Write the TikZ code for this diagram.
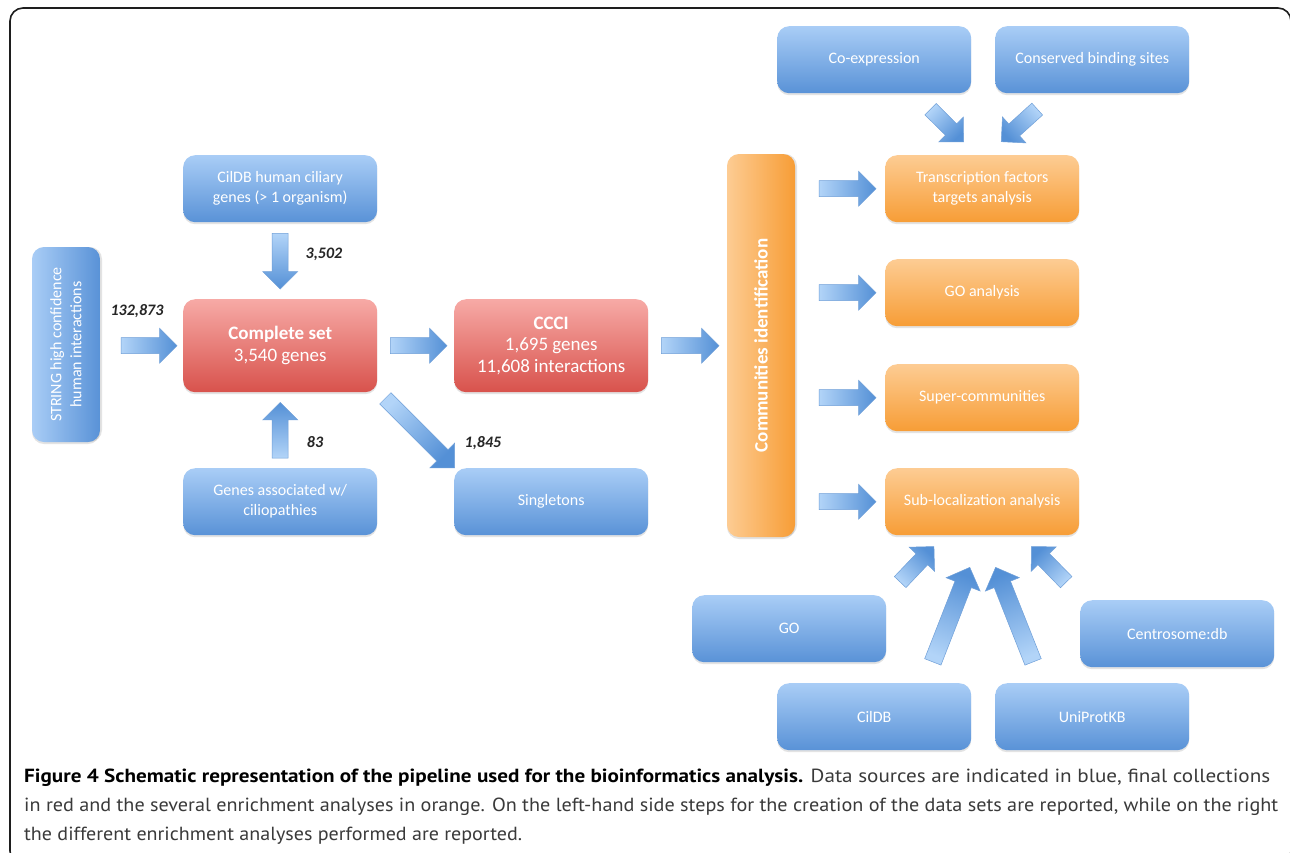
\documentclass[tikz,border=0pt]{standalone}
\usepackage{fontspec}
\setmainfont{Carlito}
\newfontfamily\capfont{PT Sans}
\usetikzlibrary{shapes.arrows,shadows,calc}
\definecolor{blueL}{HTML}{A9CDF6}
\definecolor{blueD}{HTML}{5992D7}
\definecolor{redL}{HTML}{F7AAA6}
\definecolor{redD}{HTML}{D8524C}
\definecolor{orL}{HTML}{FDCC93}
\definecolor{orD}{HTML}{F79D36}
\definecolor{arrL}{HTML}{B2D4F8}
\definecolor{arrD}{HTML}{5490D6}
\definecolor{arrE}{HTML}{6F9FD8}
\definecolor{frame}{HTML}{1E1E1E}
\definecolor{captxt}{HTML}{3A3A3A}

\tikzset{
  box/.style={rounded corners=12pt, minimum width=194pt, minimum height=67pt,
    inner sep=0pt, align=center, text=white,
    font=\fontsize{16}{20}\selectfont,
    drop shadow={shadow xshift=0pt, shadow yshift=-2pt, opacity=0.22}},
  bluebox/.style={box, top color=blueL, bottom color=blueD},
  redbox/.style={box, top color=redL, bottom color=redD},
  orbox/.style={box, top color=orL, bottom color=orD},
  barrow/.style={single arrow, inner xsep=0pt, inner ysep=7.75pt,
    single arrow head extend=9.5pt, single arrow tip angle=90,
    single arrow head indent=0pt, top color=arrL, bottom color=arrD,
    draw=arrE, line width=0.5pt},
  bigarrow/.style={inner ysep=8.5pt, single arrow head extend=9.5pt},
  lbl/.style={font=\fontsize{16}{19}\selectfont\bfseries\itshape, text=black!85, inner sep=0pt},
  capline/.style={anchor=base west, inner sep=0pt, text=captxt,
    font=\capfont\fontsize{19}{22}\selectfont}
}

% #1 options, #2 name, #3 tail, #4 tip
\newcommand\fatarrow[4][]{%
  \path let \p1=#3, \p2=#4,
    \n1={veclen(\x2-\x1,\y2-\y1)},
    \n2={atan2(\y2-\y1,\x2-\x1)},
    \n3={atan2(\y2-\y1,\x2-\x1)+90} in
    node[barrow, #1, minimum height=\n1, rotate=\n2, shading angle=\n3]
      (#2) at ($(\p1)!0.5!(\p2)$) {};}

\begin{document}
\begin{tikzpicture}[x=1pt,y=-1pt]
\useasboundingbox (0,0) rectangle (1290,852);
\fill[white] (0,0) rectangle (1290,852);
\draw[frame, line width=1.6pt, rounded corners=13pt] (10,8) rectangle (1291,864);

% ---- left part
\node[bluebox, rotate=90, minimum width=195pt, minimum height=68pt,
      left color=blueL, right color=blueD,
      drop shadow={shadow xshift=2pt, shadow yshift=0pt, opacity=0.22}]
  (string) at (66,344.5) {STRING high confidence\\human interactions};
\node[bluebox, anchor=north west] (cildbh) at (183,155) {CilDB human ciliary\\genes (> 1 organism)};
\node[redbox, anchor=north west, minimum height=93pt, font=\fontsize{19}{21.5}\selectfont]
  (complete) at (183,299) {\textbf{Complete set}\\3,540 genes};
\node[bluebox, anchor=north west] (genes) at (183,468) {Genes associated w/\\ciliopathies};
\node[redbox, anchor=north west, minimum height=93pt, font=\fontsize{19}{21.5}\selectfont]
  (ccci) at (454,299) {\textbf{CCCI}\\1,695 genes\\11,608 interactions};
\node[bluebox, anchor=north west] (single) at (454,468) {Singletons};

% ---- communities
\node[orbox, rotate=90, minimum width=383pt, minimum height=68pt,
      left color=orL, right color=orD, font=\fontsize{19}{22}\selectfont\bfseries,
      drop shadow={shadow xshift=2pt, shadow yshift=0pt, opacity=0.22}]
  (comm) at (761,345.5) {Communities identification};

% ---- right part
\node[bluebox, anchor=north west] (coexp) at (777,26) {Co-expression};
\node[bluebox, anchor=north west] (cons) at (995,26) {Conserved binding sites};
\node[orbox, anchor=north west] (tf) at (885,155) {Transcription factors\\targets analysis};
\node[orbox, anchor=north west] (goa) at (885,259) {GO analysis};
\node[orbox, anchor=north west] (super) at (885,364) {Super-communities};
\node[orbox, anchor=north west] (sub) at (885,468) {Sub-localization analysis};
\node[bluebox, anchor=north west] (go) at (692,595) {GO};
\node[bluebox, anchor=north west] (centro) at (1080,600) {Centrosome:db};
\node[bluebox, anchor=north west] (cildb) at (777,683) {CilDB};
\node[bluebox, anchor=north west] (uniprot) at (995,683) {UniProtKB};

% ---- arrows
\fatarrow{a1}{($(string.center|-complete.west)+(51,0)$)}{($(complete.west)+(-10,0)$)}
\fatarrow{a2}{($(cildbh.south)+(0,7)$)}{($(complete.north)+(0,-14)$)}
\fatarrow{a3}{($(genes.north)+(0,-6)$)}{($(complete.south)+(0,14)$)}
\fatarrow{a4}{($(complete.east)+(9,0)$)}{($(ccci.west)+(-11,0)$)}
\fatarrow{a5}{($(complete.south east)+(5,3)$)}{($(single.north west)+(-2,-3)$)}
\fatarrow{a6}{($(ccci.east)+(9,0)$)}{($(comm.center|-ccci.east)+(-46,0)$)}
\fatarrow{a7}{($(comm.center|-tf.west)+(54,0)$)}{($(tf.west)+(-13,0)$)}
\fatarrow{a8}{($(comm.center|-goa.west)+(54,0)$)}{($(goa.west)+(-13,0)$)}
\fatarrow{a9}{($(comm.center|-super.west)+(54,0)$)}{($(super.west)+(-13,0)$)}
\fatarrow{a10}{($(comm.center|-sub.west)+(54,0)$)}{($(sub.west)+(-13,0)$)}
\fatarrow{a11}{($(coexp.south)+(53.5,13)$)}{($(tf.north)+(-21.5,-16)$)}
\fatarrow{a12}{($(cons.south)+(-52,13)$)}{($(tf.north)+(22,-16)$)}
\fatarrow{a13}{($(go.north east)+(11,-10)$)}{($(sub.south)+(-51,14)$)}
\fatarrow{a14}{($(centro.north west)+(-11,-15)$)}{($(sub.south)+(52,14)$)}
\fatarrow[bigarrow]{a15}{($(cildb.north)+(57,-17)$)}{($(sub.south)+(-14,36)$)}
\fatarrow[bigarrow]{a16}{($(uniprot.north)+(-57.5,-17)$)}{($(sub.south)+(15,36)$)}

% ---- labels
\node[lbl] (l1) at (137,311) {132,873};
\node[lbl] (l2) at (324,254) {3,502};
\node[lbl] (l3) at (315,442) {83};
\node[lbl] (l4) at (483,443) {1,845};

% ---- caption
\node[capline] (cap1) at (24,782) {\resizebox{1246pt}{\height}{\textbf{\color{black}Figure 4 Schematic representation of the pipeline used for the bioinformatics analysis.} Data sources are indicated in blue, final collections}};
\node[capline] (cap2) at (24,811) {\resizebox{1254pt}{\height}{in red and the several enrichment analyses in orange. On the left-hand side steps for the creation of the data sets are reported, while on the right}};
\node[capline] (cap3) at (24,840) {\resizebox{498pt}{\height}{the different enrichment analyses performed are reported.}};
\end{tikzpicture}
\end{document}
